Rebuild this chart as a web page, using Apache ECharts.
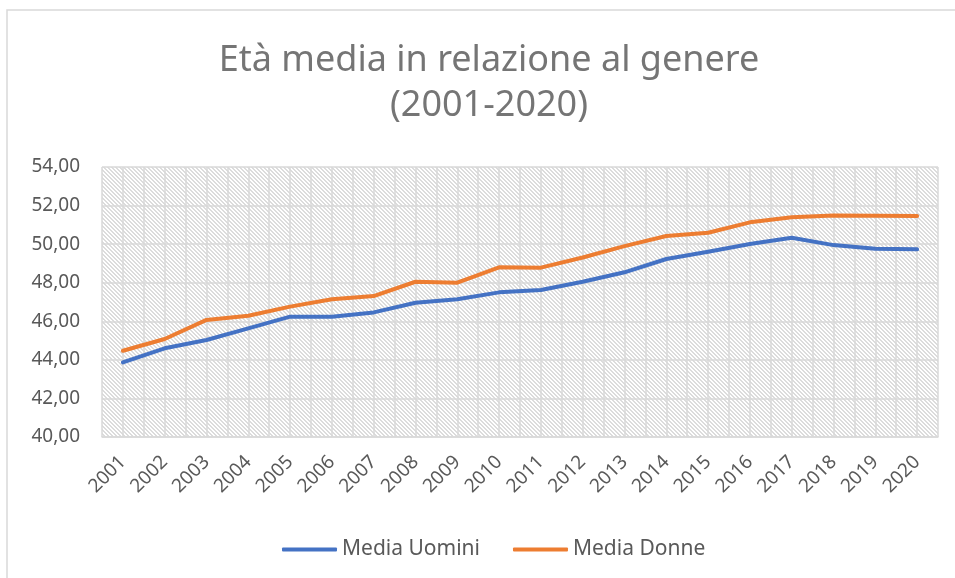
<!DOCTYPE html>
<html>
<head>
<meta charset="utf-8">
<script src="https://cdn.jsdelivr.net/npm/echarts@6/dist/echarts.min.js"></script>
<style>
  html, body { margin: 0; padding: 0; background: #fff; }
  #main { width: 955px; height: 578px; }
</style>
</head>
<body>
<div id="main"></div>
<script>
  // dati
  const years = ['2001', '2002', '2003', '2004', '2005', '2006', '2007', '2008', '2009', '2010',
    '2011', '2012', '2013', '2014', '2015', '2016', '2017', '2018', '2019', '2020'];
  const mediaUomini = [43.87, 44.60, 45.03, 45.63, 46.24, 46.24, 46.46, 46.96, 47.14, 47.50,
    47.62, 48.05, 48.54, 49.23, 49.61, 50.01, 50.33, 49.95, 49.76, 49.73];
  const mediaDonne = [44.47, 45.08, 46.07, 46.29, 46.76, 47.14, 47.31, 48.05, 48.00, 48.80,
    48.78, 49.31, 49.90, 50.42, 50.59, 51.13, 51.39, 51.49, 51.47, 51.46];
  const yTicks = [40, 42, 44, 46, 48, 50, 52, 54];

  const font = 'Noto Sans';
  const gray = '#595959';
  const gridColor = '#d9d9d9';

  // tratteggio diagonale dello sfondo
  const hatch = document.createElement('canvas');
  hatch.width = 8;
  hatch.height = 8;
  const hctx = hatch.getContext('2d');
  hctx.fillStyle = '#ffffff';
  hctx.fillRect(0, 0, 8, 8);
  hctx.fillStyle = '#dcdcdc';
  for (let y = 0; y < 8; y++) {
    for (let x = 0; x < 8; x++) {
      if ((x - y + 8) % 4 < 2) hctx.fillRect(x, y, 1, 1);
    }
  }

  const chart = echarts.init(document.getElementById('main'));
  chart.setOption({
    backgroundColor: '#ffffff',
    animation: false,
    graphic: [{
      type: 'rect',
      shape: { x: 7, y: 10, width: 960, height: 580 },
      style: { fill: 'none', stroke: '#d9d9d9', lineWidth: 1.5 },
      silent: true
    }, {
      // titolo centrato sull'area del grafico Excel
      type: 'text',
      x: 489,
      y: 38,
      silent: true,
      style: {
        text: 'Età media in relazione al genere\n(2001-2020)',
        align: 'center',
        verticalAlign: 'top',
        fontFamily: font,
        fontSize: 36,
        lineHeight: 45,
        fill: '#757575'
      }
    }],
    legend: {
      bottom: 13,
      left: 277,
      icon: 'roundRect',
      itemWidth: 55,
      itemHeight: 4,
      itemGap: 33,
      data: ['Media Uomini', 'Media Donne'],
      textStyle: { fontFamily: font, fontSize: 21, color: gray }
    },
    grid: {
      left: 102,
      right: 17,
      top: 167,
      bottom: 141,
      show: true,
      borderWidth: 0,
      backgroundColor: { image: hatch, repeat: 'repeat' }
    },
    xAxis: [{
      type: 'category',
      data: years,
      boundaryGap: true,
      axisLine: { show: true, lineStyle: { color: gridColor, width: 1.5 } },
      axisTick: { show: false },
      splitLine: { show: false },
      axisLabel: {
        rotate: 45,
        margin: 22,
        fontFamily: font,
        fontSize: 19,
        color: gray
      }
    }, {
      // linee verticali a metà categoria (come nel grafico Excel)
      type: 'value',
      min: 0,
      max: years.length * 2,
      interval: 1,
      position: 'bottom',
      axisLine: { show: false },
      axisTick: { show: false },
      axisLabel: { show: false },
      splitLine: { show: true, lineStyle: { color: gridColor, width: 1.5 } }
    }],
    yAxis: {
      type: 'value',
      min: yTicks[0],
      max: yTicks[yTicks.length - 1],
      interval: 2,
      axisLine: { show: false },
      axisTick: { show: false },
      splitLine: { show: true, lineStyle: { color: gridColor, width: 1.5 } },
      axisLabel: {
        margin: 22,
        fontFamily: font,
        fontSize: 19,
        color: gray,
        formatter: v => v.toFixed(2).replace('.', ',')
      }
    },
    series: [{
      name: 'Media Uomini',
      type: 'line',
      xAxisIndex: 0,
      data: mediaUomini,
      symbol: 'none',
      lineStyle: { color: '#4472C4', width: 4, cap: 'round', join: 'round' },
      itemStyle: { color: '#4472C4' }
    }, {
      name: 'Media Donne',
      type: 'line',
      xAxisIndex: 0,
      data: mediaDonne,
      symbol: 'none',
      lineStyle: { color: '#ED7D31', width: 4, cap: 'round', join: 'round' },
      itemStyle: { color: '#ED7D31' }
    }]
  });
</script>
</body>
</html>
